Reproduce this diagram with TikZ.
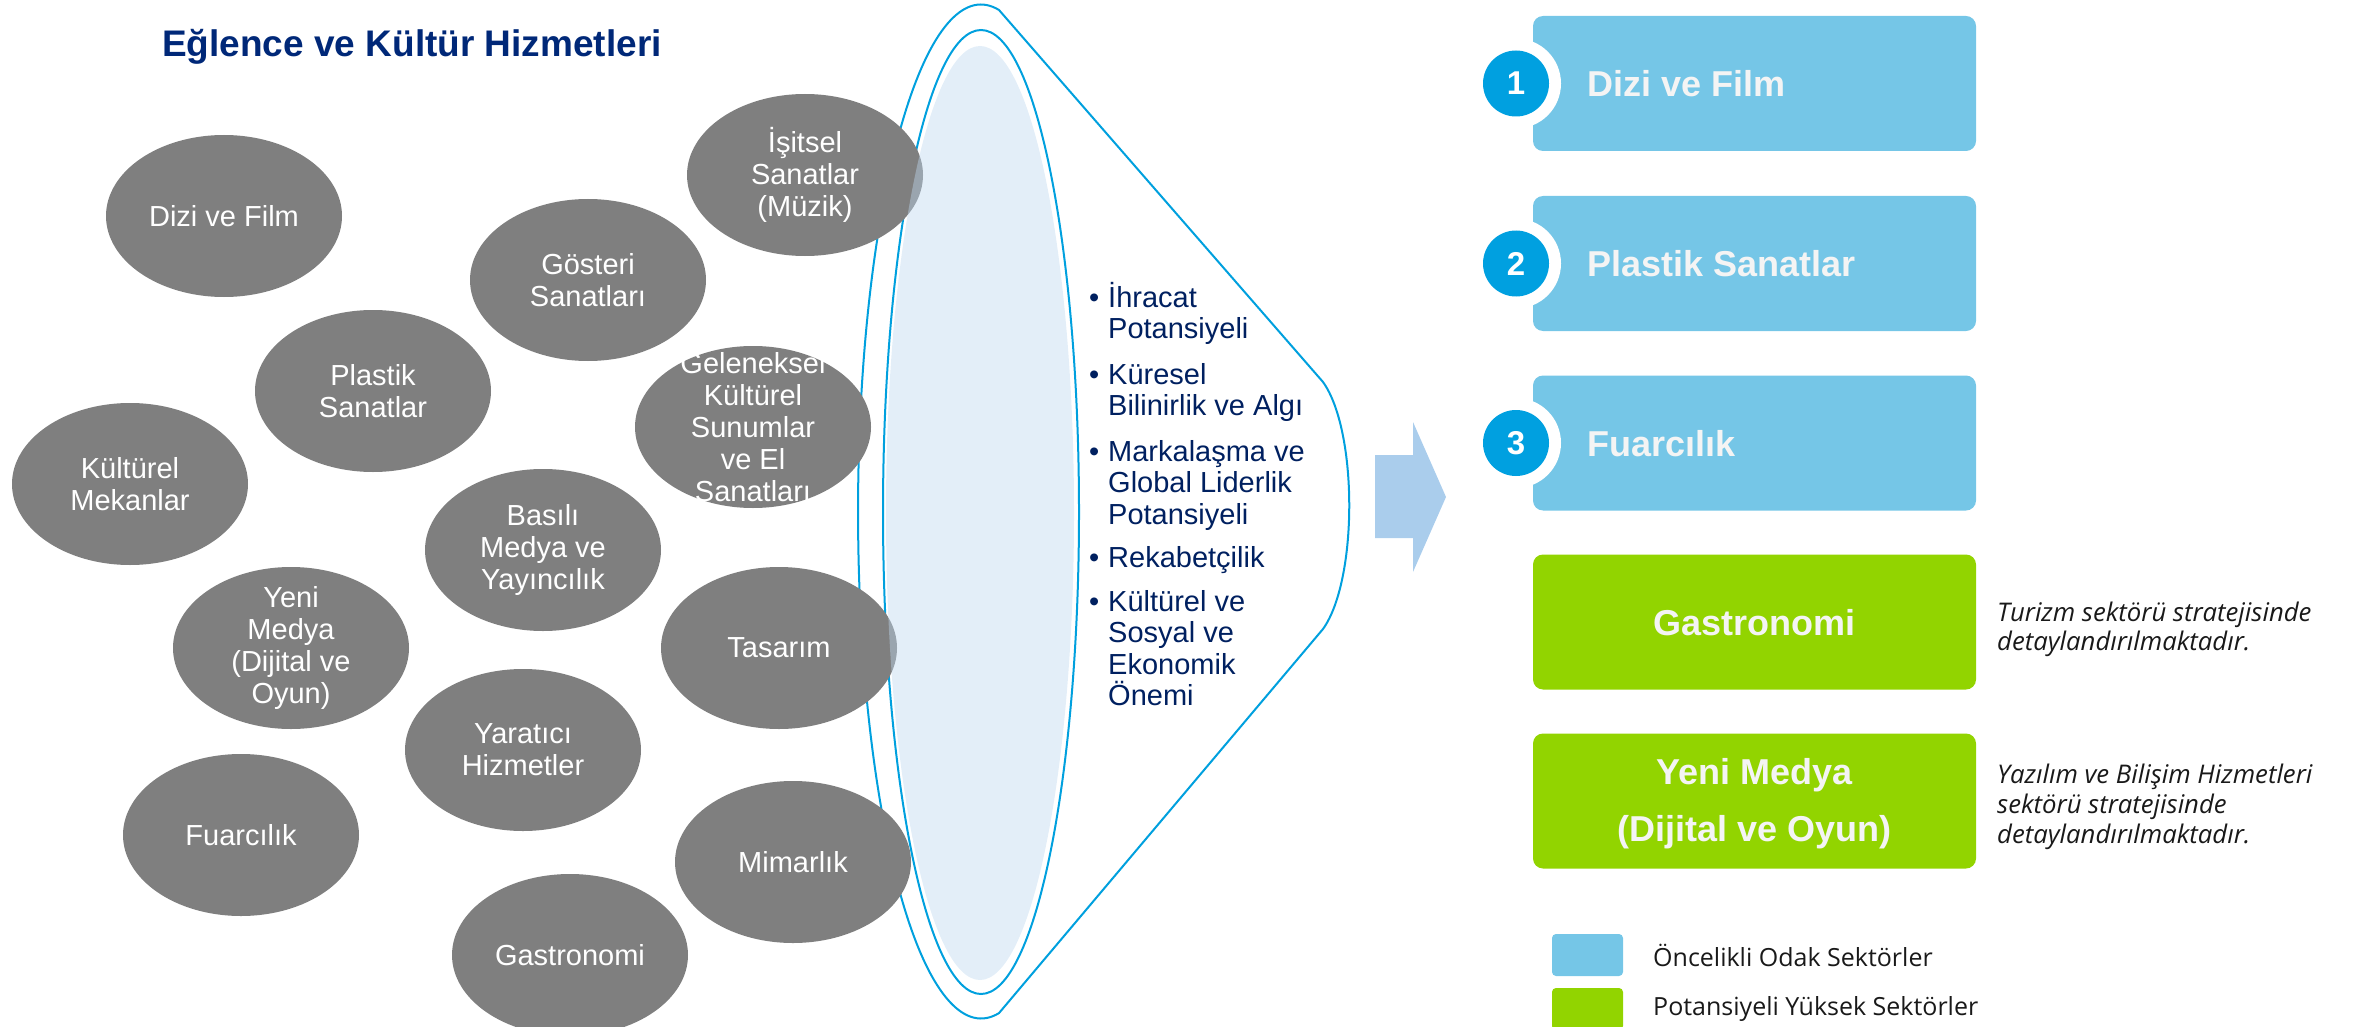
\documentclass[tikz,border=0pt]{standalone}
\usepackage{fontspec}
\setmainfont{Liberation Sans}
\newfontfamily\notefont{Open Sans}
\usetikzlibrary{shapes.geometric}
\definecolor{blobgray}{RGB}{127,127,127}
\definecolor{funblue}{RGB}{0,160,222}
\definecolor{fillblue}{RGB}{190,216,239}
\definecolor{navy}{RGB}{0,32,96}
\definecolor{titleblue}{RGB}{0,40,120}
\definecolor{boxblue}{RGB}{117,198,231}
\definecolor{badgeblue}{RGB}{0,160,224}
\definecolor{boxgreen}{RGB}{146,212,0}
\definecolor{arrowblue}{RGB}{170,205,236}
\definecolor{offwhite}{RGB}{244,244,244}
\definecolor{notegray}{RGB}{25,25,25}
\begin{document}
\begin{tikzpicture}[x=1pt,y=-1pt,
  blob/.style={ellipse, fill=blobgray, minimum width=236pt, minimum height=162pt, inner sep=0pt},
  blobtext/.style={text=white, align=center, inner sep=0pt, font=\fontsize{29}{32}\selectfont},
  funline/.style={draw=funblue, line width=2pt},
  bultext/.style={text=navy, anchor=base west, inner sep=0pt, font=\fontsize{29}{32}\selectfont},
  sectorbox/.style={rounded corners=10pt, minimum width=443pt, minimum height=135pt, inner sep=0pt},
  ring/.style={circle, fill=white, minimum size=90pt, inner sep=0pt},
  badge/.style={circle, fill=badgeblue, minimum size=66pt, inner sep=0pt, text=white, font=\bfseries\fontsize{33}{40}\selectfont},
  boxtext/.style={text=offwhite, inner sep=0pt, font=\bfseries\fontsize{36}{44}\selectfont},
  notetext/.style={text=notegray, anchor=base west, inner sep=0pt, font=\notefont\itshape\fontsize{25.7}{31}\selectfont},
  legbox/.style={rounded corners=4pt, minimum width=71pt, minimum height=42pt, inner sep=0pt},
  legtext/.style={text=notegray, anchor=base west, inner sep=0pt, font=\notefont\fontsize{25}{31}\selectfont}
]
\useasboundingbox (0,0) rectangle (2369,1027);

% title
\node[anchor=base west, inner sep=0pt, text=titleblue, font=\bfseries\fontsize{37}{44}\selectfont] (title) at (162,57) {Eğlence ve Kültür Hizmetleri};

% funnel outline
\coordinate (fa) at (999,10);
\coordinate (fb) at (1323,382);
\coordinate (fc) at (1323,629);
\draw[funline] (fa) arc[start angle=-81.6, end angle=-278.4, x radius=123, y radius=507]
  -- (fc) .. controls (1358,580) and (1358,431) .. (fb) -- cycle;
\draw[funline] (981,512) ellipse[x radius=98, y radius=482];

% circles
\node[blob] (c1) at (224,216) {};
\node[blob] (c2) at (805,175) {};
\node[blob] (c3) at (588,280) {};
\node[blob] (c4) at (373,391) {};
\node[blob] (c5) at (753,427) {};
\node[blob] (c6) at (130,484) {};
\node[blob] (c7) at (543,550) {};
\node[blob] (c8) at (291,648) {};
\node[blob] (c9) at (779,648) {};
\node[blob] (c10) at (523,750) {};
\node[blob] (c11) at (241,835) {};
\node[blob] (c12) at (793,862) {};
\node[blob] (c13) at (570,955) {};
\node[blobtext] (l1) at (c1) {Dizi ve Film};
\node[blobtext] (l2) at (c2) {İşitsel\\Sanatlar\\(Müzik)};
\node[blobtext] (l3) at (c3) {Gösteri\\Sanatları};
\node[blobtext] (l4) at (c4) {Plastik\\Sanatlar};
\node[blobtext] (l5) at (c5) {Geleneksel\\Kültürel\\Sunumlar\\ve El\\Sanatları};
\node[blobtext] (l6) at (c6) {Kültürel\\Mekanlar};
\node[blobtext] (l7) at (c7) {Basılı\\Medya ve\\Yayıncılık};
\node[blobtext] (l8) at (c8) {Yeni\\Medya\\(Dijital ve\\Oyun)};
\node[blobtext] (l9) at (c9) {Tasarım};
\node[blobtext] (l10) at (c10) {Yaratıcı\\Hizmetler};
\node[blobtext] (l11) at (c11) {Fuarcılık};
\node[blobtext] (l12) at (c12) {Mimarlık};
\node[blobtext] (l13) at (c13) {Gastronomi};

% translucent lens fill
\fill[fillblue, opacity=0.43] (980,513) ellipse[x radius=94, y radius=467];

% bullets
\foreach \yy/\nm in {307/b1, 384/b2, 461/b3, 567/b4, 611/b5}
  \node[bultext] (\nm) at (1089,\yy) {•};
\node[bultext] (k1) at (1108,307) {İhracat};
\node[bultext] (k2) at (1108,338.5) {Potansiyeli};
\node[bultext] (k3) at (1108,384) {Küresel};
\node[bultext] (k4) at (1108,415.5) {Bilinirlik ve Algı};
\node[bultext] (k5) at (1108,461) {Markalaşma ve};
\node[bultext] (k6) at (1108,492.5) {Global Liderlik};
\node[bultext] (k7) at (1108,524) {Potansiyeli};
\node[bultext] (k8) at (1108,567) {Rekabetçilik};
\node[bultext] (k9) at (1108,611) {Kültürel ve};
\node[bultext] (k10) at (1108,642.5) {Sosyal ve};
\node[bultext] (k11) at (1108,674) {Ekonomik};
\node[bultext] (k12) at (1108,705.5) {Önemi};

% arrow
\fill[arrowblue] (1375,455) -- (1413,455) -- (1413,422) -- (1446,497) -- (1413,572) -- (1413,538) -- (1375,538) -- cycle;

% blue boxes
\node[sectorbox, fill=boxblue] (s1) at (1754.5,83.5) {};
\node[sectorbox, fill=boxblue] (s2) at (1754.5,263.5) {};
\node[sectorbox, fill=boxblue] (s3) at (1754.5,443) {};
\node[ring] (r1) at (1516,83.5) {};
\node[ring] (r2) at (1516,263.5) {};
\node[ring] (r3) at (1516,443) {};
\node[badge] (n1) at (r1) {1};
\node[badge] (n2) at (r2) {2};
\node[badge] (n3) at (r3) {3};
\node[boxtext, anchor=base west] (t1) at (1587,96.5) {Dizi ve Film};
\node[boxtext, anchor=base west] (t2) at (1587,276.5) {Plastik Sanatlar};
\node[boxtext, anchor=base west] (t3) at (1587,456) {Fuarcılık};

% green boxes
\node[sectorbox, fill=boxgreen] (g1) at (1754.5,622) {};
\node[sectorbox, fill=boxgreen] (g2) at (1754.5,801) {};
\node[boxtext, anchor=base] (t4) at (1754.5,635) {Gastronomi};
\node[boxtext, align=center, font=\bfseries\fontsize{36}{57}\selectfont] (t5) at (1754.5,804) {Yeni Medya\\(Dijital ve Oyun)};

% notes
\node[notetext] (m1) at (1997,621) {Turizm sektörü stratejisinde};
\node[notetext] (m2) at (1997,650) {detaylandırılmaktadır.};
\node[notetext] (m3) at (1997,783) {Yazılım ve Bilişim Hizmetleri};
\node[notetext] (m4) at (1997,813) {sektörü stratejisinde};
\node[notetext] (m5) at (1997,843) {detaylandırılmaktadır.};

% legend
\node[legbox, fill=boxblue] (q1) at (1587.5,955) {};
\node[legbox, fill=boxgreen] (q2) at (1587.5,1009) {};
\node[legtext] (e1) at (1653,966) {Öncelikli Odak Sektörler};
\node[legtext] (e2) at (1653,1015) {Potansiyeli Yüksek Sektörler};
\end{tikzpicture}
\end{document}
